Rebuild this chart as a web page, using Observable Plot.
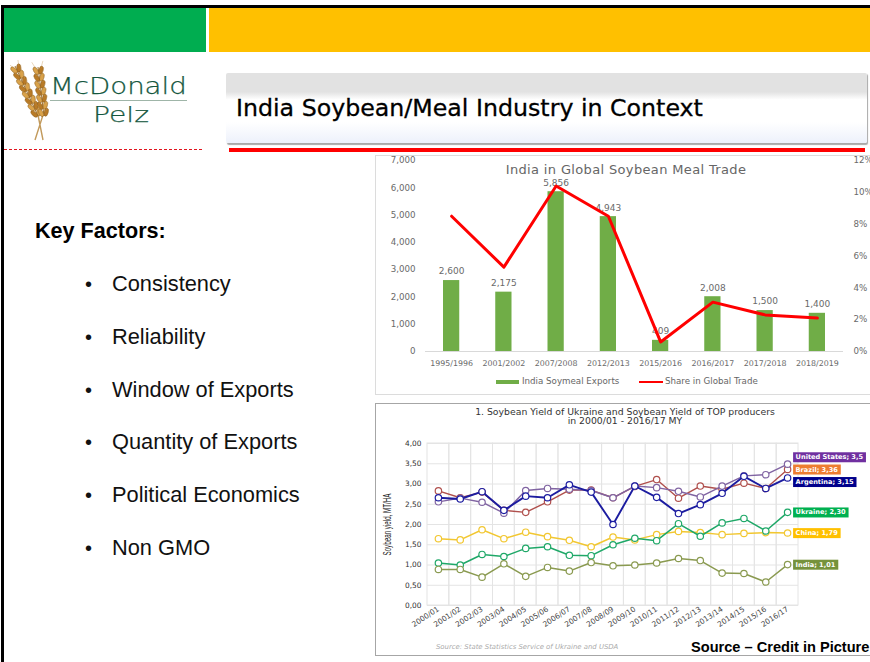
<!DOCTYPE html>
<html>
<head>
<meta charset="utf-8">
<script src="https://cdn.jsdelivr.net/npm/d3@7"></script>
<script src="https://cdn.jsdelivr.net/npm/@observablehq/plot@0.6"></script>
<style>
html,body{margin:0;padding:0;background:#fff;}
#slide{position:relative;width:870px;height:662px;overflow:hidden;background:#fff;font-family:"Liberation Sans",Arial,sans-serif;}
.abs{position:absolute;}
.t{position:absolute;white-space:nowrap;line-height:1;}
.bul{font-size:21.8px;color:#111;}
.lg{font-family:"DejaVu Sans";font-size:8.7px;color:#666;}
svg{overflow:hidden;}
</style>
</head>
<body>
<div id="slide">
  <div class="abs" style="left:1px;top:5px;width:869px;height:3px;background:#000"></div>
  <div class="abs" style="left:1px;top:5px;width:3px;height:657px;background:#000"></div>
  <div class="abs" style="left:4px;top:8px;width:202px;height:44px;background:#00ad50"></div>
  <div class="abs" style="left:209px;top:8px;width:661px;height:44px;background:#ffc000"></div>

  <svg class="abs" id="wheat" style="left:10px;top:60px" width="44" height="84" viewBox="0 0 44 84"></svg>
  <div class="t" style="left:50px;top:75px;font-family:'DejaVu Sans';font-weight:200;font-size:23px;color:#14573e;-webkit-text-stroke:.25px #14573e;transform:scaleX(1.2);transform-origin:left">McDonald</div>
  <div class="abs" style="left:50px;top:100px;width:137px;height:1px;background:#9fb5a8"></div>
  <div class="t" style="left:93px;top:104px;font-family:'DejaVu Sans';font-weight:200;font-size:22px;color:#14573e;-webkit-text-stroke:.25px #14573e;transform:scaleX(1.28);transform-origin:left">Pelz</div>
  <div class="abs" style="left:4px;top:149px;width:198px;border-top:1.5px dashed #e0141e"></div>

  <div class="abs" style="left:226px;top:72.5px;width:641px;height:70.5px;border-radius:2px;box-shadow:1px 1.5px 1px #a9a9a9;background:linear-gradient(#e2e2e2 0,#e2e2e2 27%,#fff 38%,#fff 70%,#edf1fb 100%);"></div>
  <div class="t" style="left:236px;top:97px;font-family:'DejaVu Sans';font-size:23.7px;color:#000;-webkit-text-stroke:.3px #000">India Soybean/Meal Industry in Context</div>
  <div class="abs" style="left:229px;top:148px;width:636px;height:3.5px;background:#ff0000"></div>

  <div class="t" style="left:35px;top:220px;font-weight:bold;font-size:21.6px;color:#000">Key Factors:</div>
  <div id="bullets"></div>

  <div class="abs" style="left:375px;top:155px;width:495px;height:240px;box-sizing:border-box;border:1px solid #dcdcdc;border-right:none"></div>
  <div class="abs" id="chart1" style="left:375px;top:155px"></div>
  <div class="t" style="left:375px;width:502px;text-align:center;top:163px;font-family:'DejaVu Sans';font-size:13px;letter-spacing:.35px;color:#666">India in Global Soybean Meal Trade</div>
  <div class="abs" style="left:496px;top:380px;width:23px;height:4px;background:#70ad47"></div>
  <div class="t lg" style="left:522px;top:377px">India Soymeal Exports</div>
  <div class="abs" style="left:639px;top:381px;width:24px;height:2px;background:#ff0000"></div>
  <div class="t lg" style="left:665px;top:377px">Share in Global Trade</div>

  <div class="abs" style="left:375px;top:403px;width:495px;height:253px;box-sizing:border-box;border:1.5px solid #a6a6a6;border-right:none"></div>
  <div class="abs" id="chart2" style="left:376px;top:404px"></div>
  <div class="t" style="left:378px;width:494px;text-align:center;top:406.5px;font-family:'DejaVu Sans';font-size:9.3px;color:#333">1. Soybean Yield of Ukraine and Soybean Yield of TOP producers</div>
  <div class="t" style="left:378px;width:494px;text-align:center;top:416px;font-family:'DejaVu Sans';font-size:9.3px;color:#333">in 2000/01 - 2016/17 MY</div>
  <div class="t" style="left:436px;top:644px;font-family:'DejaVu Sans';font-style:italic;font-size:6.9px;color:#aaa">Source: State Statistics Service of Ukraine and USDA</div>
  <div class="t" style="left:691px;top:640px;font-weight:bold;font-size:14.6px;color:#000">Source – Credit in Picture</div>
</div>
<script>
// Key factors
const factors = ["Consistency","Reliability","Window of Exports","Quantity of Exports","Political Economics","Non GMO"];

// Chart 1: India in Global Soybean Meal Trade
const marketingYears = ["1995/1996","2001/2002","2007/2008","2012/2013","2015/2016","2016/2017","2017/2018","2018/2019"];
const soymealExports = [2600,2175,5856,4943,409,2008,1500,1400];
const globalSharePct = [8.5,5.3,10.4,8.5,0.6,3.1,2.3,2.1];

// Chart 2: Soybean yield, MT/HA
const seasons = ["2000/01","2001/02","2002/03","2003/04","2004/05","2005/06","2006/07","2007/08","2008/09","2009/10","2010/11","2011/12","2012/13","2013/14","2014/15","2015/16","2016/17"];
const yieldBrazil    = [2.83,2.66,2.80,2.35,2.30,2.56,2.85,2.85,2.66,2.94,3.11,2.65,2.95,2.87,3.02,2.89,3.36];
const yieldUS        = [2.56,2.65,2.55,2.28,2.84,2.89,2.87,2.84,2.66,2.95,2.91,2.82,2.68,2.95,3.20,3.23,3.49];
const yieldArgentina = [2.66,2.63,2.81,2.35,2.70,2.66,2.98,2.80,2.00,2.95,2.67,2.27,2.49,2.77,3.19,2.89,3.15];
const yieldChina     = [1.65,1.62,1.87,1.65,1.81,1.70,1.61,1.45,1.69,1.62,1.75,1.83,1.80,1.75,1.78,1.80,1.79];
const yieldUkraine   = [1.05,1.00,1.26,1.21,1.41,1.45,1.24,1.23,1.50,1.66,1.60,2.02,1.71,2.04,2.15,1.84,2.30];
const yieldIndia     = [0.89,0.89,0.70,1.03,0.72,0.94,0.85,1.06,0.98,1.00,1.05,1.16,1.11,0.80,0.79,0.58,1.01];
const yieldLabels = {Brazil:"Brazil; 3,36", "United States":"United States; 3,5", Argentina:"Argentina; 3,15", China:"China; 1,79", Ukraine:"Ukraine; 2,30", India:"India; 1,01"};

document.getElementById("bullets").innerHTML = factors.map((f,i)=>{
  const top = [273,326,379,431,484,537][i];
  return `<div class="t bul" style="left:85px;top:${top}px;font-size:20px;padding-top:1px">•</div><div class="t bul" style="left:112px;top:${top}px">${f}</div>`;
}).join("");

// Logo wheat (decoration only)
function ear(x0,y0,x1,y1,n){
  let out = "";
  const dx=x1-x0, dy=y1-y0, len=Math.hypot(dx,dy), a=Math.atan2(dy,dx)*180/Math.PI-90;
  out += `<path d="M${x0} ${y0}L${x1} ${y1}" stroke="#a8762c" stroke-width="1"/>`;
  for(let i=0;i<n;i++){
    const t=(i+.5)/n, cx=x0+dx*t, cy=y0+dy*t, nx=-dy/len, ny=dx/len;
    for(const side of [-1,1]){
      const px=cx+nx*side*2.6, py=cy+ny*side*2.6;
      const rot=a+side*-22;
      const tone=(i+(side>0?1:0))%2? "#d9a24a":"#b87a26";
      out += `<ellipse cx="${px}" cy="${py}" rx="2.1" ry="4.2" transform="rotate(${rot} ${px} ${py})" fill="${tone}" stroke="#7c5218" stroke-width=".4"/>`;
      const ax=px-dx/len*9+nx*side*3, ay=py-dy/len*9+ny*side*3;
      out += `<path d="M${px} ${py-2}L${ax} ${ay}" stroke="#c79a55" stroke-width=".4"/>`;
    }
  }
  return out;
}
document.getElementById("wheat").innerHTML =
  `<g fill="none"><path d="M28 55L33 80M33 55L25 80" stroke="#c29a5c" stroke-width="1.4"/></g>` +
  ear(5,6,28,56,8) + ear(28,7,34,56,7);

// Chart 1
const bars = marketingYears.map((year,i)=>({year, tons:soymealExports[i], share:globalSharePct[i]}));
const shareToTons = p => p*7000/12;
const chart1 = Plot.plot({
  width:495, height:240,
  marginLeft:50, marginRight:27, marginTop:5, marginBottom:44,
  style:{fontFamily:"DejaVu Sans",background:"transparent",color:"#666"},
  x:{type:"band",domain:marketingYears,padding:0,round:false,label:null},
  y:{domain:[0,7000],label:null},
  marks:[
    Plot.ruleY([0],{stroke:"#d9d9d9"}),
    Plot.axisY(d3.range(0,7001,1000),{tickSize:0,tickPadding:10,tickFormat:d3.format(","),fontSize:8.7,label:null,fill:"#6a6a6a"}),
    Plot.axisY(d3.range(0,13,2).map(shareToTons),{anchor:"right",tickSize:0,tickPadding:10,tickFormat:v=>Math.round(v*12/7000)+"%",fontSize:8.7,label:null,fill:"#6a6a6a"}),
    Plot.axisX(marketingYears,{tickSize:0,tickPadding:9,fontSize:7.9,label:null,fill:"#6a6a6a"}),
    Plot.barY(bars,{x:"year",y:"tons",fill:"#70ad47",insetLeft:18,insetRight:18}),
    Plot.text(bars,{x:"year",y:"tons",text:d=>d3.format(",")(d.tons),dy:-9,fontSize:9,fill:"#6a6a6a"}),
    Plot.line(bars,{x:"year",y:d=>shareToTons(d.share),stroke:"#ff0000",strokeWidth:3})
  ]
});
document.getElementById("chart1").append(chart1);

// Chart 2
const series = [
  {name:"Brazil",values:yieldBrazil,line:"#b0504d",badge:"#ed7d31",nudge:0,w:1.4},
  {name:"United States",values:yieldUS,line:"#8064a2",badge:"#7030a0",nudge:-7,w:1.4},
  {name:"China",values:yieldChina,line:"#f2c731",badge:"#ffc000",nudge:0,w:1.5},
  {name:"Ukraine",values:yieldUkraine,line:"#1fa868",badge:"#00b050",nudge:0,w:1.5},
  {name:"India",values:yieldIndia,line:"#8a9a50",badge:"#76923c",nudge:0,w:1.5},
  {name:"Argentina",values:yieldArgentina,line:"#1c1ca0",badge:"#00008b",nudge:4,w:1.9}
];
const yAxisLabel = "Soybean yield, MT/HA";
const chart2 = Plot.plot({
  width:494, height:252,
  marginLeft:51, marginRight:72, marginTop:39, marginBottom:51,
  style:{fontFamily:"DejaVu Sans",background:"transparent",color:"#444"},
  x:{type:"band",domain:seasons,padding:0,round:false,label:null},
  y:{domain:[0,4],label:null},
  marks:[
    Plot.gridY(d3.range(0,4.01,0.5),{stroke:"#e4e4e4",strokeOpacity:1}),
    Plot.barY(seasons,{x:d=>d,y1:0,y2:4,fill:"none",stroke:"#e4e4e4"}),
    Plot.axisY(d3.range(0,4.01,0.5),{tickSize:0,tickPadding:6,tickFormat:v=>v.toFixed(2).replace(".",","),fontSize:7.4,fill:"#333",label:yAxisLabel,labelAnchor:"center",labelArrow:"none",labelOffset:44}),
    Plot.axisX(seasons,{tickSize:0,tickRotate:-33,tickPadding:3,fontSize:7.4,fill:"#444",label:null}),
    ...series.flatMap(s=>{
      const rows = seasons.map((season,i)=>({season,v:s.values[i]}));
      return [
        Plot.line(rows,{x:"season",y:"v",stroke:s.line,strokeWidth:s.w}),
        Plot.dot(rows,{x:"season",y:"v",r:3.2,fill:"#fff",stroke:s.line,strokeWidth:1.2}),
        Plot.text(rows.slice(-1),{x:"season",y:"v",text:()=>yieldLabels[s.name],textAnchor:"start",dx:8,dy:s.nudge,fontSize:6.6,fontWeight:"bold",fill:"#fff"})
      ];
    })
  ]
});
document.getElementById("chart2").append(chart2);
// coloured label chips behind the end-of-line texts; condensed y-axis title
chart2.querySelectorAll("text").forEach(t=>{
  if(t.textContent===yAxisLabel){
    t.setAttribute("font-family","Liberation Sans");
    t.setAttribute("font-size","10");
    t.setAttribute("fill","#222");
    t.setAttribute("textLength","62");
    t.setAttribute("lengthAdjust","spacingAndGlyphs");
    return;
  }
  const s = series.find(x=>yieldLabels[x.name]===t.textContent);
  if(!s) return;
  const b = t.getBBox();
  const r = document.createElementNS("http://www.w3.org/2000/svg","rect");
  r.setAttribute("x",b.x-2.5); r.setAttribute("y",b.y-1);
  r.setAttribute("width",b.width+5); r.setAttribute("height",b.height+2);
  r.setAttribute("fill",s.badge);
  if(t.getAttribute("transform")) r.setAttribute("transform",t.getAttribute("transform"));
  t.parentNode.insertBefore(r,t);
});
</script>
</body>
</html>
